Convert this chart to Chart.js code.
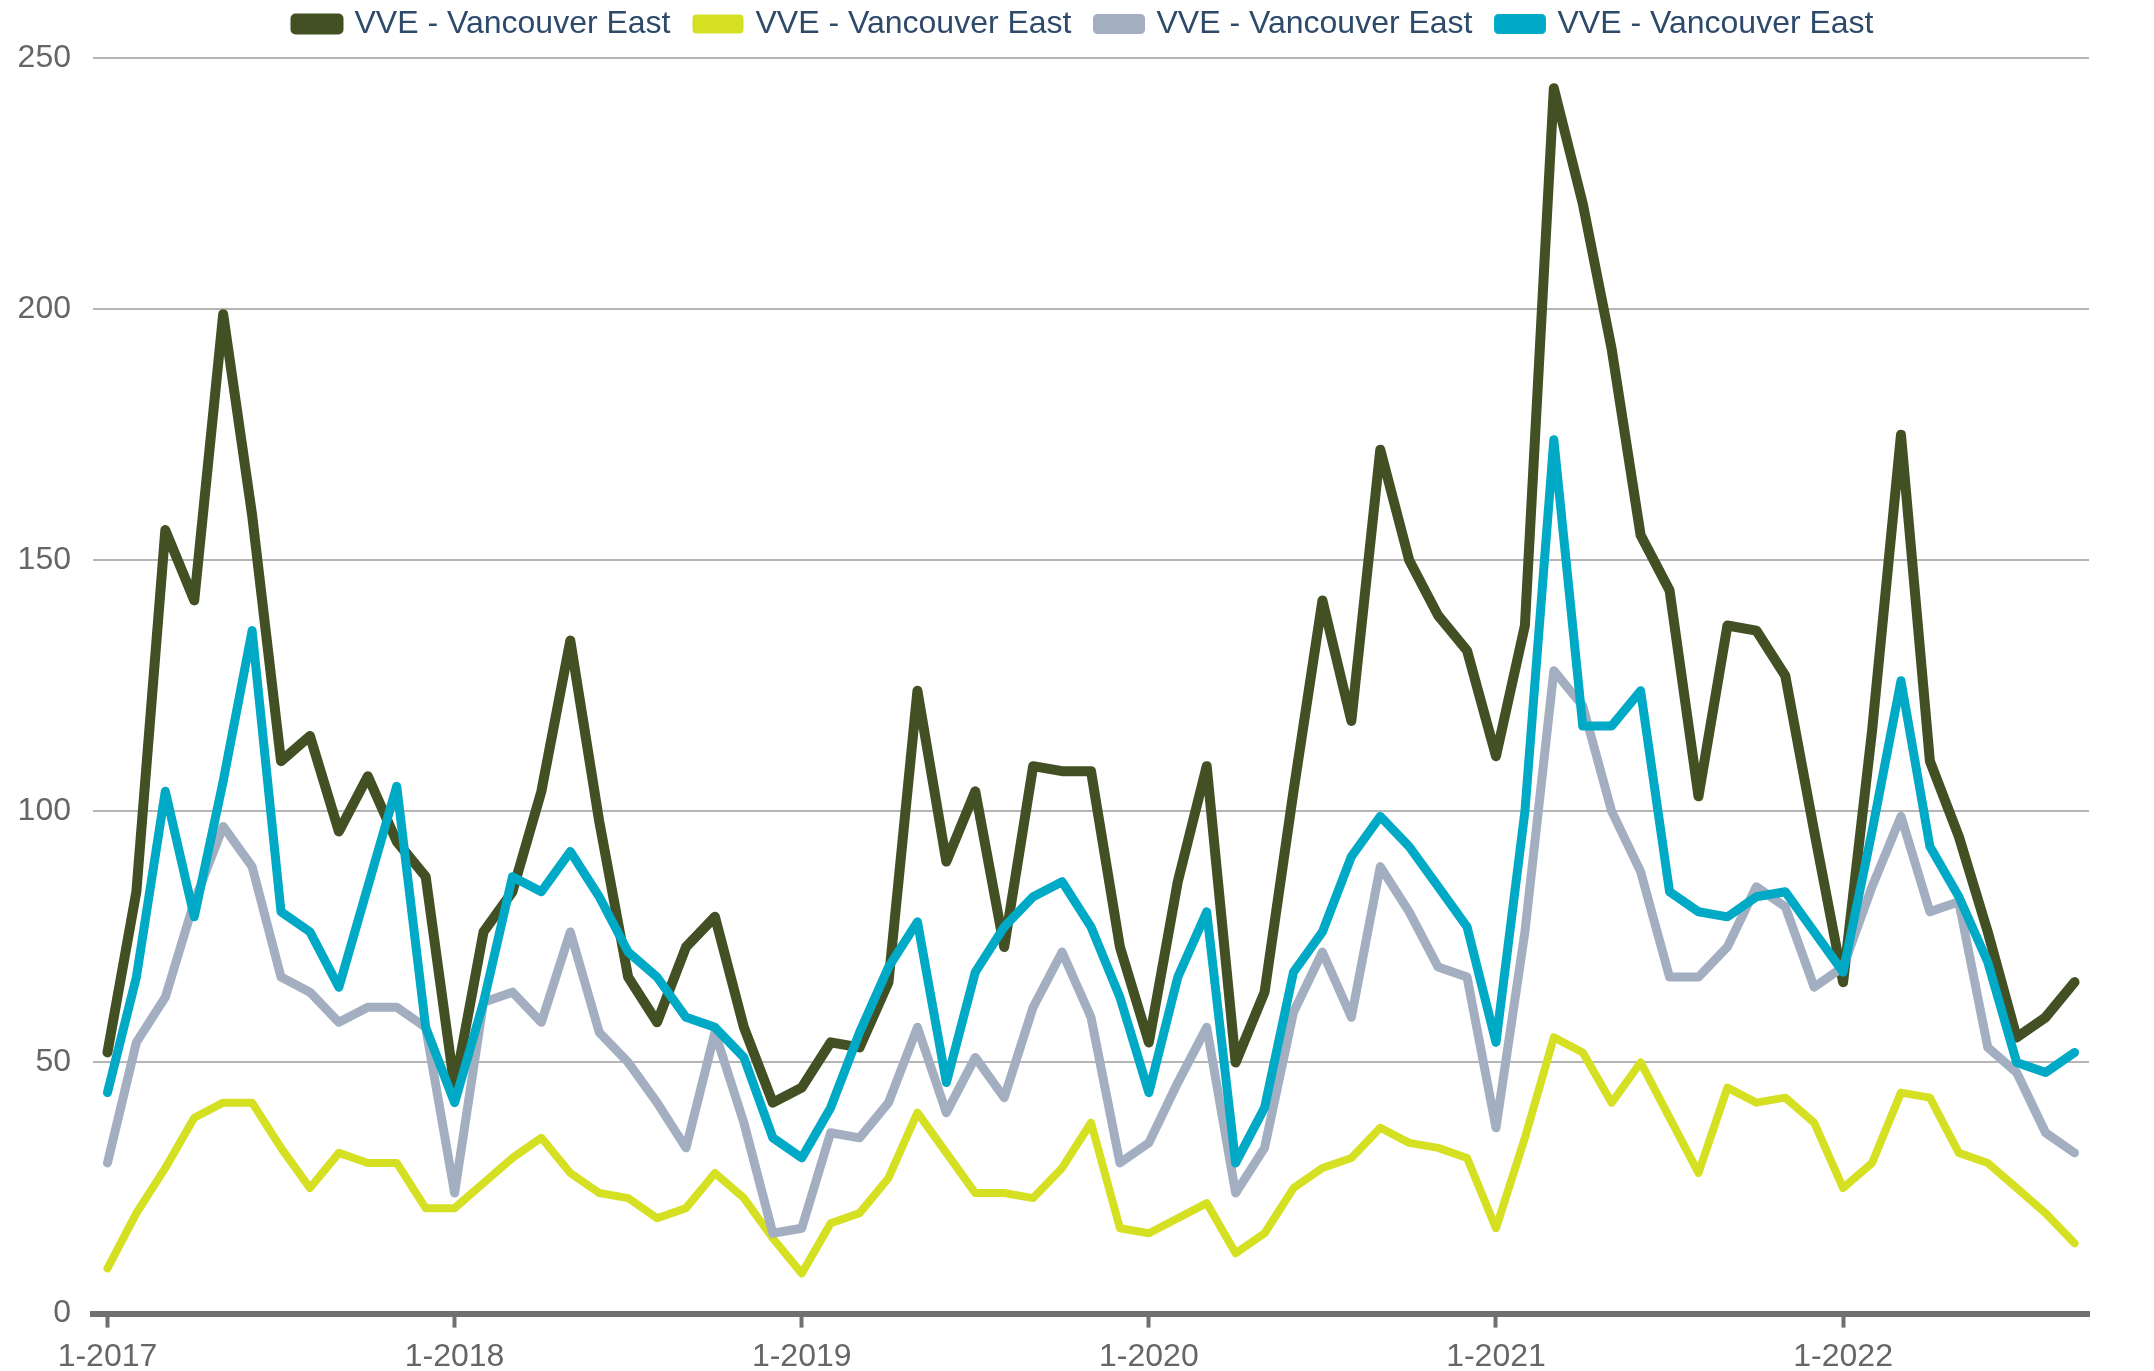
<!DOCTYPE html>
<html>
<head>
<meta charset="utf-8">
<script src="https://cdn.jsdelivr.net/npm/chart.js@4.4.0/dist/chart.umd.min.js"></script>
<style>
  html, body { margin: 0; padding: 0; background: #fff; }
  #wrap { width: 2154px; height: 1371px; position: relative; }
</style>
</head>
<body>
<div id="wrap"><canvas id="salesChart"></canvas></div>
<script>
// monthly categories, 1-2017 .. 9-2022
const months = [];
for (let y = 2017; y <= 2022; y++) {
    for (let m = 1; m <= 12; m++) {
        if (y === 2022 && m > 9) break;
        months.push(m + '-' + y);
    }
}

const seriesNames = ['VVE - Vancouver East', 'VVE - Vancouver East', 'VVE - Vancouver East', 'VVE - Vancouver East'];

const darkSeries = [52, 84, 156, 142, 199, 159, 110, 115, 96, 107, 94, 87, 45,
    76, 84, 104, 134, 98, 67, 58, 73, 79, 57, 42, 45,
    54, 53, 66, 124, 90, 104, 73, 109, 108, 108, 73, 54,
    86, 109, 50, 64, 104, 142, 118, 172, 150, 139, 132, 111,
    137, 244, 221, 192, 155, 144, 103, 137, 136, 127, 96, 66,
    116, 175, 110, 95, 76, 55, 59, 66];

const limeSeries = [9, 20, 29, 39, 42, 42, 33, 25, 32, 30, 30, 21, 21,
    26, 31, 35, 28, 24, 23, 19, 21, 28, 23, 15, 8,
    18, 20, 27, 40, 32, 24, 24, 23, 29, 38, 17, 16,
    19, 22, 12, 16, 25, 29, 31, 37, 34, 33, 31, 17,
    35, 55, 52, 42, 50, 39, 28, 45, 42, 43, 38, 25,
    30, 44, 43, 32, 30, 25, 20, 14];

const greySeries = [30, 54, 63, 82, 97, 89, 67, 64, 58, 61, 61, 57, 24,
    62, 64, 58, 76, 56, 50, 42, 33, 56, 38, 16, 17,
    36, 35, 42, 57, 40, 51, 43, 61, 72, 59, 30, 34,
    46, 57, 24, 33, 60, 72, 59, 89, 80, 69, 67, 37,
    76, 128, 121, 100, 88, 67, 67, 73, 85, 81, 65, 69,
    85, 99, 80, 82, 53, 48, 36, 32];

const cyanSeries = [44, 67, 104, 79, 106, 136, 80, 76, 65, 85, 105, 57, 42,
    62, 87, 84, 92, 83, 72, 67, 59, 57, 51, 35, 31,
    41, 56, 69, 78, 46, 68, 77, 83, 86, 77, 63, 44,
    67, 80, 30, 41, 68, 76, 91, 99, 93, 85, 77, 54,
    100, 174, 117, 117, 124, 84, 80, 79, 83, 84, 76, 68,
    96, 126, 93, 83, 70, 50, 48, 52];

const yTicks = [0, 50, 100, 150, 200, 250];

const FONT = 'Liberation Sans, Arial, sans-serif';

function lineSet(label, data, color, width, order) {
    return {
        label: label,
        data: data,
        borderColor: color,
        backgroundColor: color,
        borderWidth: width,
        pointRadius: 0,
        pointHoverRadius: 0,
        tension: 0,
        fill: false,
        borderJoinStyle: 'round',
        borderCapStyle: 'round',
        order: order
    };
}

// nudge the legend: a bit right and up, like the original
const legendNudge = {
    id: 'legendNudge',
    afterLayout(chart) {
        const lg = chart.legend;
        if (!lg) return;
        lg.left += 32; lg.right += 32;
        lg.top -= 8; lg.bottom -= 8;
    }
};

const ctx = document.getElementById('salesChart');

new Chart(ctx, {
    type: 'line',
    data: {
        labels: months,
        datasets: [
            lineSet(seriesNames[0], darkSeries, '#425024', 10, 2),
            lineSet(seriesNames[1], limeSeries, '#d4e021', 8, 3),
            lineSet(seriesNames[2], greySeries, '#a3afc0', 9, 1),
            lineSet(seriesNames[3], cyanSeries, '#00a9c5', 9, 0)
        ]
    },
    plugins: [legendNudge],
    options: {
        responsive: true,
        maintainAspectRatio: false,
        animation: false,
        layout: {
            padding: { top: -10, left: 16, right: 65, bottom: -15 }
        },
        plugins: {
            legend: {
                display: true,
                position: 'top',
                labels: {
                    boxWidth: 43,
                    boxHeight: 11,
                    padding: 26,
                    color: '#2e4a6b',
                    font: { size: 32, family: FONT },
                    sort: (a, b) => a.datasetIndex - b.datasetIndex
                }
            },
            tooltip: { enabled: false }
        },
        scales: {
            x: {
                offset: true,
                grid: {
                    drawOnChartArea: false,
                    drawTicks: true,
                    tickLength: 14,
                    tickWidth: 4,
                    tickColor: (c) => (c.index % 12 === 0 ? '#707070' : 'rgba(0,0,0,0)')
                },
                border: { display: true, color: '#707070', width: 6 },
                ticks: {
                    autoSkip: false,
                    maxRotation: 0,
                    padding: 10,
                    color: '#666666',
                    font: { size: 32, family: FONT },
                    callback: function(value, index) {
                        return index % 12 === 0 ? months[index] : '';
                    }
                }
            },
            y: {
                min: yTicks[0],
                max: yTicks[yTicks.length - 1],
                afterBuildTicks: (axis) => { axis.ticks = yTicks.map(v => ({ value: v })); },
                afterFit: (axis) => { axis.width = 77; },
                grid: {
                    color: '#b5b5b5',
                    lineWidth: 2,
                    drawTicks: false
                },
                border: { display: false },
                ticks: {
                    padding: 22,
                    color: '#666666',
                    font: { size: 32, family: FONT }
                }
            }
        }
    }
});
</script>
</body>
</html>
